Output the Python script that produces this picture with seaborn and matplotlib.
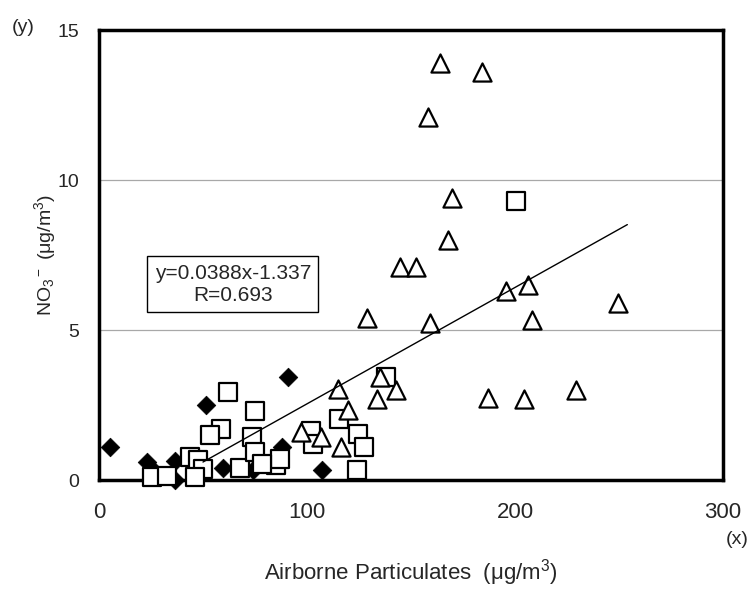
import numpy as np
import pandas as pd
import matplotlib
matplotlib.use("Agg")
import matplotlib.pyplot as plt
import seaborn as sns

# diamonds (filled)
dia_x = [5.3, 51.6, 90.8, 88.1, 107.3, 22.9, 26.0, 36.5, 36.5, 59.6, 74.0]
dia_y = [1.1, 2.5, 3.45, 1.1, 0.33, 0.6, 0.33, 0.65, 0.0, 0.4, 0.33]

# squares (open)
sq_x = [200.6, 138.0, 115.6, 102.0, 102.8, 124.4, 127.3, 124.1, 85.2, 86.8,
        62.0, 75.1, 58.5, 53.2, 73.7, 43.6, 47.6, 50.0, 25.3, 32.5, 46.0,
        67.6, 75.1, 78.3]
sq_y = [9.3, 3.45, 2.05, 1.65, 1.2, 1.55, 1.1, 0.33, 0.5, 0.72,
        2.95, 2.3, 1.72, 1.5, 1.45, 0.78, 0.67, 0.36, 0.1, 0.15, 0.1,
        0.4, 0.95, 0.55]

# triangles (open)
tri_x = [163.9, 184.3, 158.3, 169.9, 168.0, 144.7, 152.4, 195.5, 206.2, 128.7,
         159.1, 208.3, 249.4, 142.8, 187.2, 204.3, 229.1, 114.8, 135.3, 133.5,
         119.9, 97.2, 106.8, 116.4]
tri_y = [13.9, 13.6, 12.1, 9.4, 8.0, 7.1, 7.1, 6.3, 6.5, 5.4,
         5.25, 5.35, 5.9, 3.0, 2.75, 2.7, 3.0, 3.05, 3.45, 2.7,
         2.35, 1.6, 1.45, 1.1]

# regression
slope, intercept = 0.0388, -1.337
fit_x = [50, 254]

sns.set_theme(style="white")
plt.rcParams["font.family"] = ["Liberation Sans", "DejaVu Sans"]
plt.rcParams["mathtext.fontset"] = "custom"
plt.rcParams["mathtext.rm"] = "Liberation Sans"
plt.rcParams["mathtext.it"] = "Liberation Sans"

fig = plt.figure(figsize=(7.5, 5.92), dpi=100)
ax = fig.add_axes([0.132, 0.189, 0.832, 0.760])

for y in [5, 10]:
    ax.axhline(y, color="#a8a8a8", lw=0.9, zorder=0)

sns.scatterplot(x=dia_x, y=dia_y, marker="D", s=90, color="black",
                edgecolor="black", linewidth=0.5, ax=ax, clip_on=False, zorder=3)
sns.scatterplot(x=sq_x, y=sq_y, marker="s", s=150, facecolor="white",
                edgecolor="black", linewidth=1.6, ax=ax, clip_on=False, zorder=4)
sns.scatterplot(x=tri_x, y=tri_y, marker="^", s=170, facecolor="white",
                edgecolor="black", linewidth=1.6, ax=ax, clip_on=False, zorder=5)

fit_df = pd.DataFrame({"x": fit_x})
fit_df["y"] = slope * fit_df["x"] + intercept
sns.lineplot(data=fit_df, x="x", y="y", color="black", lw=1.0, ax=ax, zorder=6)

ax.set_xlim(0, 300)
ax.set_ylim(0, 15)
ax.set_xticks([0, 100, 200, 300])
ax.set_yticks([0, 5, 10, 15])
ax.tick_params(direction="in", length=5, width=1.5)
ax.tick_params(axis="x", labelsize=16, pad=16)
ax.tick_params(axis="y", labelsize=14, pad=14)
for sp in ax.spines.values():
    sp.set_color("black")
    sp.set_linewidth(2.5)

ax.set_xlabel("Airborne Particulates  (μg/m$^3$)", fontsize=16, labelpad=24)
ax.set_ylabel("NO$_3$$^-$ (μg/m$^3$)", fontsize=14, labelpad=0)

fig.text(0.016, 0.953, "(y)", fontsize=14, ha="left", va="center")
fig.text(0.998, 0.088, "(x)", fontsize=14, ha="right", va="center")

ax.text(64.3, 6.53, "y=0.0388x-1.337\nR=0.693", fontsize=15, ha="center",
        va="center", multialignment="center", zorder=7,
        bbox=dict(boxstyle="square,pad=0.35", fc="white", ec="black", lw=1.0))

fig.savefig("out.png", dpi=100)
